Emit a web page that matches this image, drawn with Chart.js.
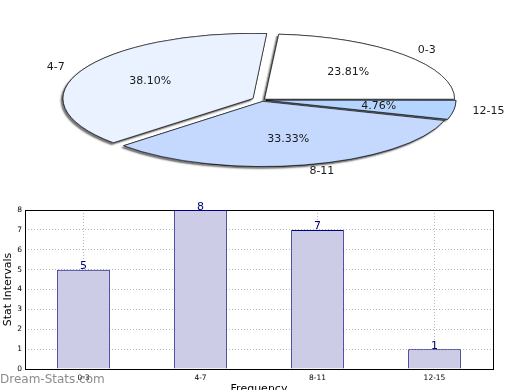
<!DOCTYPE html>
<html>
<head>
<meta charset="utf-8">
<script src="https://cdn.jsdelivr.net/npm/chart.js@4/dist/chart.umd.min.js"></script>
<style>
  html, body { margin: 0; padding: 0; background: #ffffff; }
  #wrap { position: relative; width: 520px; height: 390px; overflow: hidden; }
  #bar { position: absolute; left: 0; top: 0; }
  #pie { position: absolute; left: 0; top: 0; pointer-events: none; }
  #wm { position: absolute; left: 0; top: 372px; font: 12px "DejaVu Sans", sans-serif; color: rgba(120,120,120,0.85); white-space: nowrap; }
</style>
</head>
<body>
<div id="wrap">
  <canvas id="bar" width="520" height="390"></canvas>
  <canvas id="pie" width="520" height="200"></canvas>
  <div id="wm">Dream-Stats.com</div>
</div>
<script>
// ---- data ----
const categories = ['0-3', '4-7', '8-11', '12-15'];
const frequencies = [5, 8, 7, 1];
const yTickValues = [0, 1, 2, 3, 4, 5, 6, 7, 8];
const yAxisTitle = 'Stat Intervals';
const xAxisTitle = 'Frequency';

// ---- styles ----
const pieColors = ['#ffffff', '#ebf2ff', '#c5d9ff', '#b5d5ff'];
const pieOffsets = [14, 40, 16, 16];
const PIE_CX = 262, PIE_CY = 100, PIE_R = 190, PIE_SY = 0.343;
const FONT = '"DejaVu Sans", sans-serif';

const total = frequencies.reduce((a, b) => a + b, 0);

// ---- pie (elliptical, exploded, shadowed) ----
const piePlugin = {
  id: 'ellipsePie',
  beforeDatasetsDraw(chart) {
    const ctx = chart.ctx, a = chart.chartArea;
    const cx = (a.left + a.right) / 2, cy = (a.top + a.bottom) / 2;
    const meta = chart.getDatasetMeta(0);
    // keep every wedge at the same radius (cancel the library's radius growth on exploded wedges)
    meta.data.forEach(el => {
      const off = (el.options.offset || 0) / 4;
      const fix = 1 - Math.sin(Math.min(Math.PI, el.circumference || 0));
      el.outerRadius = PIE_R - off * fix;
    });
    ctx.save();
    ctx.translate(PIE_CX, PIE_CY);
    ctx.scale(1, -PIE_SY);
    ctx.translate(-cx, -cy);
    // shadow pass: all shadows beneath all wedges
    ctx.save();
    ctx.shadowColor = 'rgba(70,70,70,0.75)';
    ctx.shadowOffsetX = -2;
    ctx.shadowOffsetY = 2;
    ctx.shadowBlur = 1.5;
    meta.data.forEach(el => el.draw(ctx));
    ctx.restore();
  },
  afterDatasetsDraw(chart) {
    const ctx = chart.ctx;
    ctx.restore();
    const meta = chart.getDatasetMeta(0);
    ctx.save();
    ctx.fillStyle = '#1a1a1a';
    ctx.font = '11px ' + FONT;
    ctx.textBaseline = 'middle';
    meta.data.forEach((el, i) => {
      const mid = (el.startAngle + el.endAngle) / 2;
      const off = (el.options.offset || 0) / 4;
      const r = PIE_R;
      const c = Math.cos(mid), s = Math.sin(mid);
      const lx = PIE_CX + c * (1.1 * r + off);
      const ly = PIE_CY - PIE_SY * s * (1.1 * r + off);
      ctx.textAlign = c >= 0 ? 'left' : 'right';
      ctx.fillText(categories[i], lx, ly);
      const px = PIE_CX + c * (0.6 * r + off);
      const py = PIE_CY - PIE_SY * s * (0.6 * r + off);
      ctx.textAlign = 'center';
      ctx.fillText((frequencies[i] / total * 100).toFixed(2) + '%', px, py);
    });
    ctx.restore();
  }
};

new Chart(document.getElementById('pie'), {
  type: 'pie',
  data: {
    labels: categories,
    datasets: [{
      data: frequencies,
      backgroundColor: pieColors,
      borderColor: '#000000',
      borderWidth: 0.9,
      offset: pieOffsets,
      clip: false
    }]
  },
  options: {
    responsive: false,
    animation: false,
    radius: PIE_R,
    rotation: 90,
    layout: { padding: 0 },
    plugins: { legend: { display: false }, tooltip: { enabled: false } },
    events: []
  },
  plugins: [piePlugin]
});

// ---- bar chart ----
const framePlugin = {
  id: 'frame',
  beforeDatasetsDraw(chart) {
    const ctx = chart.ctx, a = chart.chartArea;
    ctx.save();
    ctx.strokeStyle = '#000000';
    ctx.lineWidth = 1;
    ctx.setLineDash([]);
    ctx.strokeRect(Math.round(a.left) + 0.5, Math.round(a.top) + 0.5,
                   Math.round(a.right - a.left), Math.round(a.bottom - a.top));
    ctx.restore();
  },
  afterDatasetsDraw(chart) {
    const ctx = chart.ctx;
    const meta = chart.getDatasetMeta(0);
    ctx.save();
    ctx.fillStyle = '#000080';
    ctx.font = '11px ' + FONT;
    ctx.textAlign = 'center';
    ctx.textBaseline = 'alphabetic';
    meta.data.forEach((el, i) => {
      ctx.fillText(String(frequencies[i]), el.x, el.y - 0.5);
    });
    ctx.restore();
  }
};

new Chart(document.getElementById('bar'), {
  type: 'bar',
  data: {
    labels: categories,
    datasets: [{
      data: frequencies,
      backgroundColor: '#ccccE6',
      borderColor: '#000080',
      borderWidth: 1,
      barPercentage: 0.45,
      categoryPercentage: 1.0
    }]
  },
  options: {
    responsive: false,
    animation: false,
    layout: { padding: { top: 210, right: 27, left: 0, bottom: 0 } },
    plugins: { legend: { display: false }, tooltip: { enabled: false } },
    events: [],
    scales: {
      x: {
        type: 'category',
        offset: true,
        grid: { display: true, offset: false, color: '#b8b8b8', lineWidth: 1, drawTicks: false },
        border: { display: false, dash: [1, 2] },
        ticks: { font: { size: 7.5, family: FONT }, color: '#000', padding: 5, maxRotation: 0, autoSkip: false },
        title: { display: true, text: xAxisTitle, font: { size: 11, family: FONT }, color: '#000', padding: { top: 0, bottom: -6 } },
        afterFit(scale) { scale.height = 21; }
      },
      y: {
        min: 0,
        max: 8,
        afterBuildTicks(scale) { scale.ticks = yTickValues.map(v => ({ value: v })); },
        grid: { display: true, color: '#b8b8b8', lineWidth: 1, drawTicks: false },
        border: { display: false, dash: [1, 2] },
        ticks: { font: { size: 7.5, family: FONT }, color: '#000', padding: 3 },
        title: { display: true, text: yAxisTitle, font: { size: 11, family: FONT }, color: '#000', padding: { top: 2, bottom: 0 } },
        afterFit(scale) { scale.width = 25; }
      }
    }
  },
  plugins: [framePlugin]
});
</script>
</body>
</html>
